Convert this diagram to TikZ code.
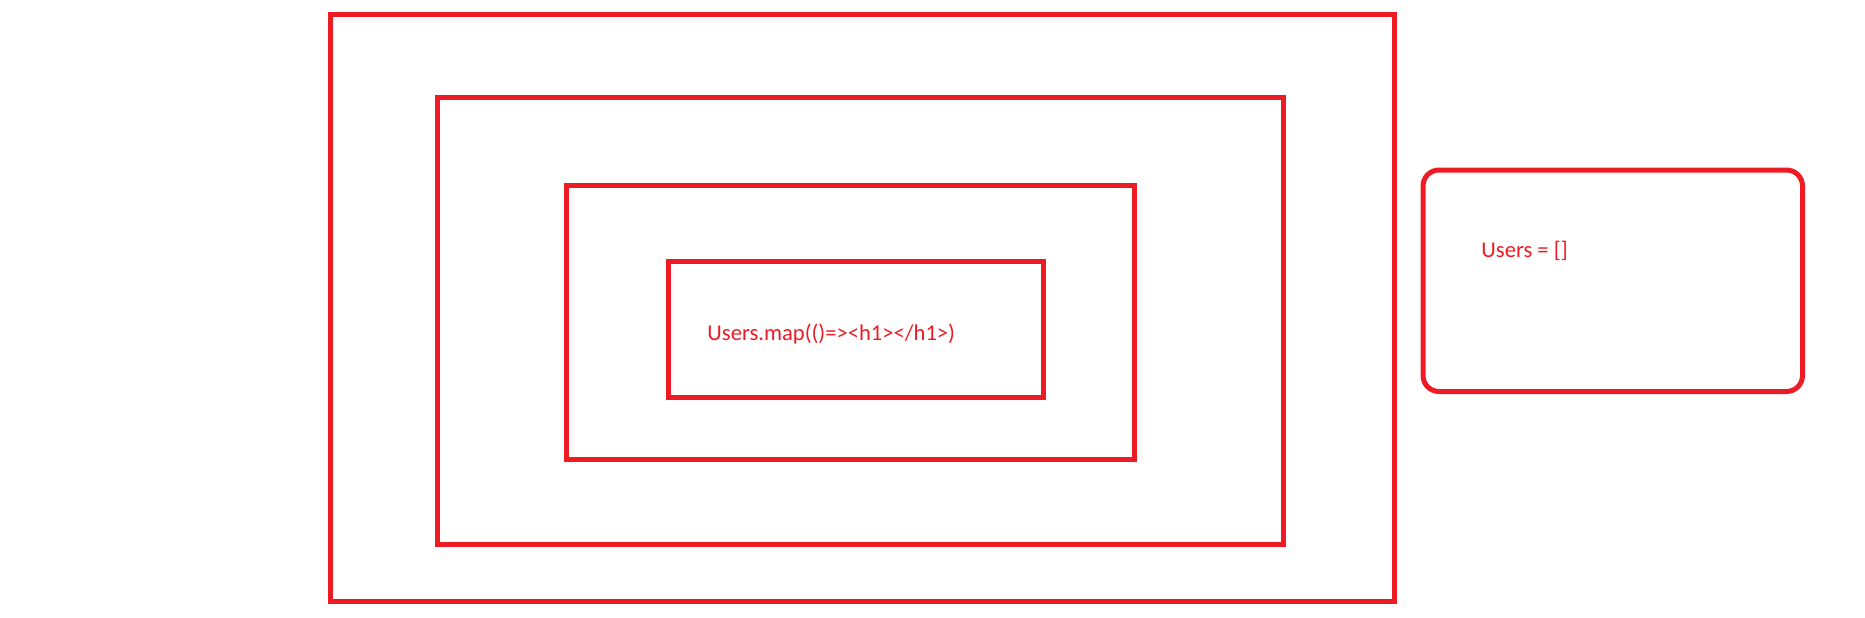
\documentclass[tikz,border=0pt]{standalone}
\usepackage{fontspec}
\setmainfont{Carlito}
\usetikzlibrary{positioning}
\definecolor{paintred}{RGB}{237,28,36}
\tikzset{frame/.style={draw=paintred, line width=2.5pt},
         codetext/.style={text=paintred, font=\fontsize{11.3}{13}\selectfont, inner sep=0pt, anchor=base west}}

\begin{document}
\begin{tikzpicture}[x=0.5pt,y=-0.5pt]
\useasboundingbox (0,0) rectangle (1865,617);
% nested boxes
\draw[frame] (330.3,14.5) rectangle (1394.5,601.5);
\draw[frame] (437.5,97.5) rectangle (1283.5,544.5);
\draw[frame] (566.5,185.5) rectangle (1134.5,459.5);
\draw[frame] (668.5,261.5) rectangle (1043,397.5);
\node[codetext] (map) at (707,340) {Users.map(()=>{<}h1{>}{<}/h1{>})};
% state box
\draw[frame, rounded corners=8pt] (1423,170) rectangle (1802.5,391.5);
\node[codetext] (users) at (1481,257) {Users = []};
\end{tikzpicture}
\end{document}
